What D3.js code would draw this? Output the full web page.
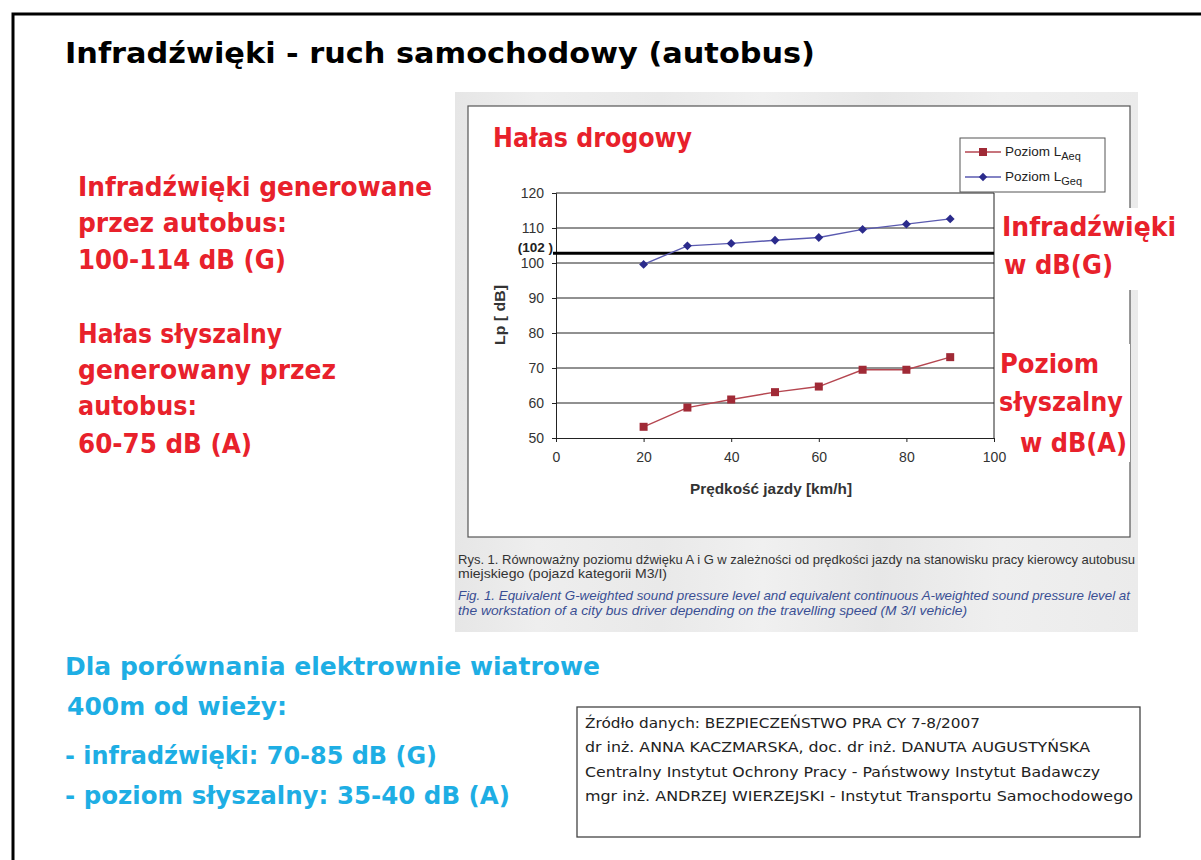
<!DOCTYPE html>
<html lang="pl">
<head>
<meta charset="UTF-8">
<title>Infradźwięki - ruch samochodowy (autobus)</title>
<script src="https://d3js.org/d3.v7.min.js"></script>
<style>
  body { margin: 0; background: #fff; }
  svg { display: block; }
  .slide { font-family: 'DejaVu Sans', Verdana, sans-serif; }
  .chart { font-family: 'Liberation Sans', Arial, sans-serif; }
</style>
</head>
<body>
<svg id="slide" width="1201" height="860"></svg>
<script>
  // dane
  const speeds = [20, 30, 40, 50, 60, 70, 80, 90];
  const levelAeq = [53.2, 58.7, 61.0, 63.1, 64.7, 69.5, 69.5, 73.1];
  const levelGeq = [99.6, 104.9, 105.6, 106.5, 107.3, 109.6, 111.1, 112.6];
  const threshold = 102.8;
  const xTicks = [0, 20, 40, 60, 80, 100];
  const yTicks = [50, 60, 70, 80, 90, 100, 110, 120];

  const red = "#e8212b", cyan = "#1eaee4";
  const svg = d3.select("#slide");

  // ramka slajdu
  svg.append("path")
    .attr("d", "M13,860 V14 H1201")
    .attr("fill", "none").attr("stroke", "#000").attr("stroke-width", 3);

  const txt = (x, y, s, opt) => {
    const t = svg.append("text").attr("x", x).attr("y", y).text(s)
      .attr("class", opt.cls || "slide")
      .attr("font-size", opt.size)
      .attr("fill", opt.color || "#000")
      .style("font-weight", opt.weight || "bold");
    if (opt.len) t.attr("textLength", opt.len).attr("lengthAdjust", "spacingAndGlyphs");
    if (opt.style) t.style("font-style", opt.style);
    return t;
  };

  txt(65, 63, "Infradźwięki - ruch samochodowy (autobus)", {size: 28, len: 750});

  // tekst po lewej
  [["Infradźwięki generowane", 196, 354], ["przez autobus:", 232, 209], ["100-114 dB (G)", 269, 208],
   ["Hałas słyszalny", 343, 204], ["generowany przez", 379, 258], ["autobus:", 415, 119],
   ["60-75 dB (A)", 453, 174]].forEach(([s, y, w]) => txt(78, y, s, {size: 26, color: red, len: w}));

  // panel wykresu
  const grad = svg.append("defs").append("linearGradient").attr("id", "panel");
  [["0", "#e6e6e6"], ["0.12", "#eeeeee"], ["0.3", "#e9e9e9"], ["0.45", "#f0f0f0"],
   ["0.62", "#e7e7e7"], ["0.8", "#efefef"], ["1", "#ebebeb"]]
    .forEach(([o, c]) => grad.append("stop").attr("offset", o).attr("stop-color", c));
  svg.append("rect").attr("x", 455).attr("y", 92).attr("width", 683).attr("height", 540).attr("fill", "url(#panel)");
  svg.append("rect").attr("x", 468).attr("y", 106).attr("width", 662).attr("height", 431)
    .attr("fill", "#fff").attr("stroke", "#555").attr("stroke-width", 1.2);

  // białe tło pod opisami po prawej
  svg.append("rect").attr("x", 997).attr("y", 208).attr("width", 184).attr("height", 82).attr("fill", "#fff");
  svg.append("rect").attr("x", 996).attr("y", 344).attr("width", 134).attr("height", 118).attr("fill", "#fff");

  const x = d3.scaleLinear().domain([0, 100]).range([556, 994]);
  const y = d3.scaleLinear().domain([50, 120]).range([438, 193]);
  const g = svg.append("g").attr("class", "chart");

  g.selectAll(".grid").data(yTicks.slice(1)).join("line")
    .attr("x1", x(0)).attr("x2", x(100)).attr("y1", d => y(d)).attr("y2", d => y(d))
    .attr("stroke", "#222").attr("stroke-width", 1);
  g.append("line").attr("x1", x(100)).attr("x2", x(100)).attr("y1", y(120)).attr("y2", y(50))
    .attr("stroke", "#222");

  g.append("g").attr("transform", `translate(0,${y(50)})`)
    .call(d3.axisBottom(x).tickValues(xTicks).tickSize(4).tickPadding(10))
    .call(a => a.selectAll("text").attr("font-size", 14).attr("fill", "#333").attr("font-family", "Liberation Sans, Arial"))
    .call(a => a.selectAll("path,line").attr("stroke", "#222"));
  g.append("g").attr("transform", `translate(${x(0)},0)`)
    .call(d3.axisLeft(y).tickValues(yTicks).tickSize(4).tickPadding(8))
    .call(a => a.selectAll("text").attr("font-size", 14).attr("fill", "#333").attr("font-family", "Liberation Sans, Arial"))
    .call(a => a.selectAll("path,line").attr("stroke", "#222"));

  g.append("line").attr("x1", x(0) - 3).attr("x2", x(100)).attr("y1", y(threshold)).attr("y2", y(threshold))
    .attr("stroke", "#000").attr("stroke-width", 3);
  g.append("text").attr("x", 553).attr("y", 252).attr("text-anchor", "end")
    .attr("font-size", 13.5).style("font-weight", "bold").attr("fill", "#222").text("(102 )");

  g.append("text").attr("x", 690).attr("y", 494)
    .attr("font-size", 14).style("font-weight", "bold").attr("fill", "#333")
    .attr("textLength", 162).attr("lengthAdjust", "spacingAndGlyphs").text("Prędkość jazdy [km/h]");
  g.append("text").attr("transform", "translate(505,345) rotate(-90)")
    .attr("font-size", 14).style("font-weight", "bold").attr("fill", "#333")
    .attr("textLength", 60).attr("lengthAdjust", "spacingAndGlyphs").text("Lp [ dB]");

  const line = d3.line().x((d, i) => x(speeds[i])).y(d => y(d));
  g.append("path").datum(levelAeq).attr("d", line).attr("fill", "none").attr("stroke", "#b54650").attr("stroke-width", 1.4);
  g.append("path").datum(levelGeq).attr("d", line).attr("fill", "none").attr("stroke", "#5a5ab0").attr("stroke-width", 1.4);
  g.selectAll(".sq").data(levelAeq).join("rect")
    .attr("x", (d, i) => x(speeds[i]) - 4).attr("y", d => y(d) - 4).attr("width", 8).attr("height", 8)
    .attr("fill", "#a02a36");
  g.selectAll(".dm").data(levelGeq).join("path")
    .attr("d", d3.symbol(d3.symbolDiamond2, 50))
    .attr("transform", (d, i) => `translate(${x(speeds[i])},${y(d)})`)
    .attr("fill", "#2b2b8c");

  // legenda
  const lg = g.append("g");
  lg.append("rect").attr("x", 960).attr("y", 138).attr("width", 145).attr("height", 54)
    .attr("fill", "#fff").attr("stroke", "#555");
  [["Aeq", "#b54650", "#a02a36", 152], ["Geq", "#5a5ab0", "#2b2b8c", 177]].forEach(([sub, lc, mc, ly], i) => {
    lg.append("line").attr("x1", 965).attr("x2", 1001).attr("y1", ly).attr("y2", ly).attr("stroke", lc).attr("stroke-width", 1.3);
    if (i === 0) lg.append("rect").attr("x", 979).attr("y", ly - 4).attr("width", 8).attr("height", 8).attr("fill", mc);
    else lg.append("path").attr("d", d3.symbol(d3.symbolDiamond2, 45)).attr("transform", `translate(983,${ly})`).attr("fill", mc);
    const t = lg.append("text").attr("x", 1005).attr("y", ly + 4).attr("font-size", 13.5).attr("fill", "#222").text("Poziom L");
    t.append("tspan").attr("font-size", 11).attr("dy", 4).text(sub);
  });

  txt(493, 147, "Hałas drogowy", {size: 26, color: red, len: 199});

  // opisy po prawej
  txt(1002, 236, "Infradźwięki", {size: 26, color: red, len: 174});
  txt(1004, 274, "w dB(G)", {size: 26, color: red, len: 109});
  txt(1000, 373, "Poziom", {size: 26, color: red, len: 99});
  txt(999, 411, "słyszalny", {size: 26, color: red, len: 124});
  txt(1020, 452, "w dB(A)", {size: 26, color: red, len: 107});

  // podpis rysunku
  txt(458, 564, "Rys. 1. Równoważny poziomu dźwięku A i G  w zależności od prędkości jazdy na stanowisku pracy kierowcy autobusu",
      {cls: "chart", size: 13, color: "#333", len: 677, weight: "normal"});
  txt(458, 578, "miejskiego (pojazd kategorii M3/I)", {cls: "chart", size: 13, color: "#333", len: 209, weight: "normal"});
  txt(458, 600, "Fig. 1. Equivalent G-weighted sound pressure level and equivalent continuous A-weighted sound pressure level at",
      {cls: "chart", size: 13, color: "#3a4f94", len: 672, weight: "normal", style: "italic"});
  txt(458, 615, "the workstation of a city bus driver depending on the travelling speed (M 3/I vehicle)",
      {cls: "chart", size: 13, color: "#3a4f94", len: 509, weight: "normal", style: "italic"});

  // porównanie
  txt(65, 675, "Dla porównania elektrownie wiatrowe", {size: 25, color: cyan, len: 535});
  txt(67, 715, "400m od wieży:", {size: 25, color: cyan, len: 220});
  txt(65, 764, "- infradźwięki: 70-85 dB (G)", {size: 25, color: cyan, len: 372});
  txt(65, 804, "- poziom słyszalny: 35-40 dB (A)", {size: 25, color: cyan, len: 445});

  // źródło
  svg.append("rect").attr("x", 577).attr("y", 707).attr("width", 563).attr("height", 130)
    .attr("fill", "#fff").attr("stroke", "#444").attr("stroke-width", 1.3);
  [["Źródło danych: BEZPIECZEŃSTWO PRA CY 7-8/2007", 728, 395],
   ["dr inż. ANNA KACZMARSKA, doc. dr inż. DANUTA AUGUSTYŃSKA", 752, 505],
   ["Centralny Instytut Ochrony Pracy - Państwowy Instytut Badawczy", 777, 515],
   ["mgr inż. ANDRZEJ WIERZEJSKI - Instytut Transportu Samochodowego", 801, 548]]
    .forEach(([s, yy, w]) => txt(585, yy, s, {size: 14, color: "#222", len: w, weight: "normal"}));
</script>
</body>
</html>
